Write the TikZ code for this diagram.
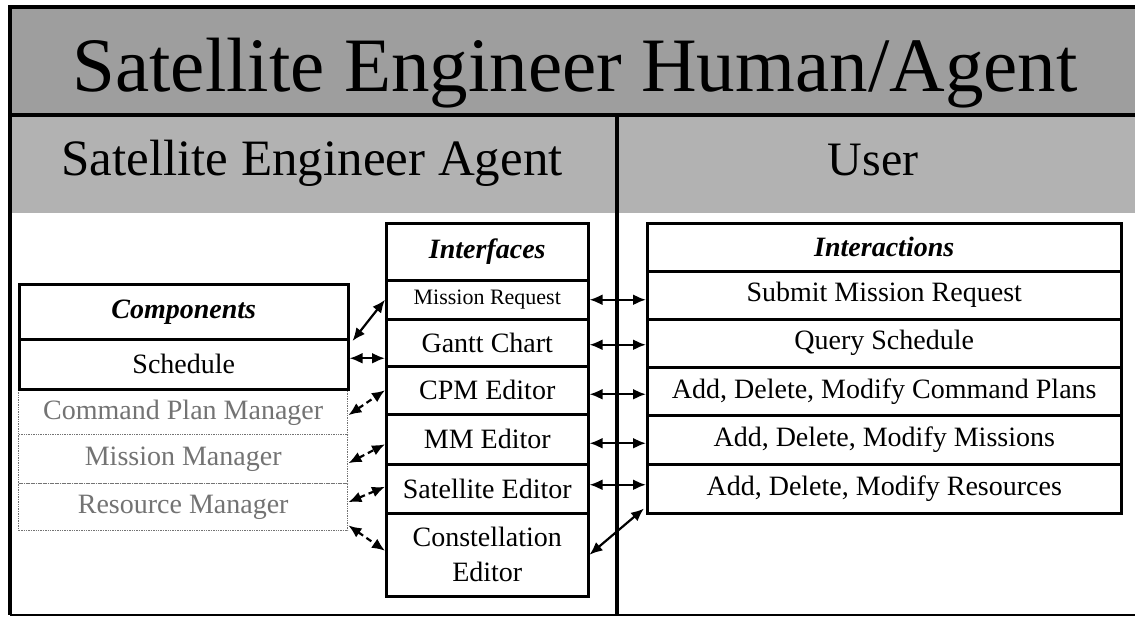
\documentclass[tikz,border=0pt]{standalone}
\usepackage{fontspec}
\setmainfont{Liberation Serif}
\usetikzlibrary{arrows.meta,calc}
\definecolor{bandA}{gray}{0.62}
\definecolor{bandB}{gray}{0.70}
\definecolor{faint}{gray}{0.45}
\begin{document}
\begin{tikzpicture}[x=1pt,y=-1pt,
  cell/.style={draw, line width=2.5pt, fill=white, inner sep=0pt, anchor=north west,
    align=center, font=\fontsize{28}{35}\selectfont},
  fcell/.style={draw=faint, densely dotted, line width=1.4pt, fill=white, inner sep=0pt,
    anchor=north west, text=faint, font=\fontsize{28}{35}\selectfont},
  hdr/.style={cell, font=\fontsize{28}{30}\selectfont\bfseries\itshape},
  biarrow/.style={{Latex[length=13pt,width=11pt]}-{Latex[length=13pt,width=11pt]}, line width=2.2pt},
  dasharrow/.style={biarrow, dash pattern=on 6pt off 4pt}
]
\useasboundingbox (0,0) rectangle (1135,618);
% bands
\fill[bandA] (10,7) rectangle (1140,115);
\fill[bandB] (10,115) rectangle (1140,212);
\draw[gray!60, line width=1pt] (10,212) -- (1140,212);
% frame
\draw[line width=4pt] (1140,7) -- (10,7) -- (10,615);
\draw[line width=2pt] (10,615) -- (1140,615);
\draw[line width=4pt] (10,115) -- (1140,115);
\draw[line width=4pt] (617,115) -- (617,615);
% titles
\node[anchor=base, inner sep=0pt, font=\fontsize{77}{80}\selectfont] (title) at (575,92) {Satellite Engineer Human/Agent};
\node[anchor=base, inner sep=0pt, font=\fontsize{51}{54}\selectfont] (sea) at (312,175) {Satellite Engineer Agent};
\node[anchor=base, inner sep=0pt, font=\fontsize{48}{50}\selectfont] (user) at (873,175) {User};
% components
\node[fcell, minimum width=329pt, minimum height=49pt] (ccpm) at (18,388) {Command Plan Manager};
\node[fcell, minimum width=329pt, minimum height=49pt] (cmm) at (18,434) {Mission Manager};
\node[fcell, minimum width=329pt, minimum height=47pt] (cres) at (18,483) {Resource Manager};
\node[hdr, minimum width=329pt, minimum height=55pt] (chdr) at (18,283) {Components};
\node[cell, minimum width=329pt, minimum height=50pt] (csch) at (18,338) {Schedule};
% interfaces
\node[hdr, minimum width=202pt, minimum height=57pt] (ifh) at (385,222) {Interfaces};
\node[cell, minimum width=202pt, minimum height=39pt, font=\fontsize{22}{24}\selectfont] (ifmr) at (385,279) {Mission Request};
\node[cell, minimum width=202pt, minimum height=47pt] (ifgantt) at (385,318) {Gantt Chart};
\node[cell, minimum width=202pt, minimum height=48pt] (ifcpm) at (385,365) {CPM Editor};
\node[cell, minimum width=202pt, minimum height=50pt] (ifmm) at (385,413) {MM Editor};
\node[cell, minimum width=202pt, minimum height=49pt] (ifsat) at (385,463) {Satellite Editor};
\node[cell, minimum width=202pt, minimum height=83pt] (ifcon) at (385,512) {Constellation\\Editor};
% interactions
\node[hdr, minimum width=474pt, minimum height=48pt] (iah) at (646,222) {Interactions};
\node[cell, minimum width=474pt, minimum height=48pt] (iasub) at (646,270) {Submit Mission Request};
\node[cell, minimum width=474pt, minimum height=48pt] (iaqry) at (646,318) {Query Schedule};
\node[cell, minimum width=474pt, minimum height=48pt] (iacp) at (646,366) {Add, Delete, Modify Command Plans};
\node[cell, minimum width=474pt, minimum height=49pt] (iamis) at (646,414) {Add, Delete, Modify Missions};
\node[cell, minimum width=474pt, minimum height=49pt] (iares) at (646,463) {Add, Delete, Modify Resources};
% left connectors
\draw[biarrow] ([xshift=3pt,yshift=-3pt]csch.north east) -- (ifmr.west);
\draw[biarrow] ([yshift=6pt]csch.east) -- ([yshift=6pt]csch.east -| ifgantt.west);
\draw[dasharrow] ([yshift=-2pt]ccpm.east) -- (ifcpm.west);
\draw[dasharrow] ([yshift=-4pt]cmm.east) -- ([yshift=-5pt]ifmm.west);
\draw[dasharrow] ([yshift=5pt]cres.east) -- ([yshift=2pt]ifsat.west);
\draw[dasharrow] ([yshift=6pt]cres.south east) -- ([yshift=4pt]ifcon.west);
% right connectors
\draw[biarrow] (ifmr.east) -- (ifmr.east -| iasub.west);
\draw[biarrow] ([yshift=-2pt]ifgantt.east) -- ([yshift=-2pt]ifgantt.east -| iaqry.west);
\draw[biarrow] ([yshift=-4pt]ifcpm.east) -- ([yshift=-4pt]ifcpm.east -| iacp.west);
\draw[biarrow] ([yshift=-4pt]ifmm.east) -- ([yshift=-4pt]ifmm.east -| iamis.west);
\draw[biarrow] ([yshift=4pt]ifsat.east) -- ([yshift=4pt]ifsat.east -| iares.west);
\draw[biarrow] (ifcon.east) -- ([xshift=-2pt,yshift=6pt]iares.south west);
\end{tikzpicture}
\end{document}
